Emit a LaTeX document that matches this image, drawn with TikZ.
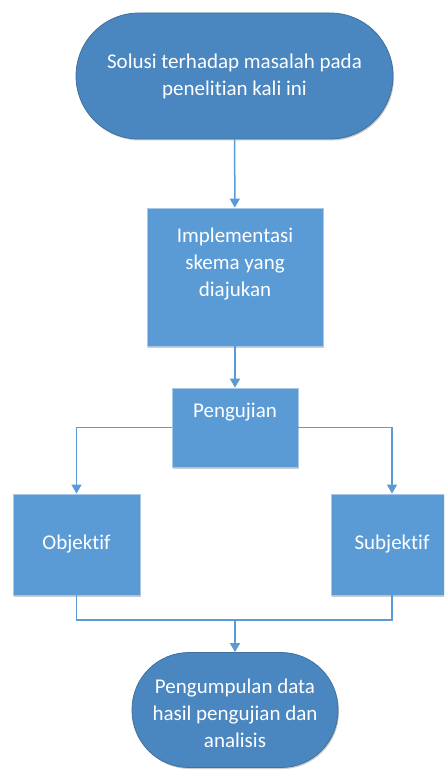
\documentclass[tikz,border=0pt]{standalone}
\usepackage{fontspec}
\setmainfont{Carlito}[Ligatures=NoCommon]
\usetikzlibrary{arrows.meta,shadows}
\definecolor{termfill}{HTML}{4A86C0}
\definecolor{termdraw}{HTML}{41719C}
\definecolor{boxfill}{HTML}{5B9BD5}
\definecolor{boxdraw}{HTML}{A8C7E6}
\definecolor{linecol}{HTML}{5B9BD5}
\begin{document}
\begin{tikzpicture}[x=1pt,y=-1pt,
  shade/.style={drop shadow={shadow xshift=1pt,shadow yshift=-1.5pt,opacity=0.2,fill=black}},
  term/.style={draw=termdraw,fill=termfill,line width=0.8pt,shade},
  boxnode/.style={draw=boxdraw,fill=boxfill,line width=0.8pt,shade},
  txt/.style={text=white,align=center,font=\fontsize{21}{27}\selectfont,inner sep=0pt},
  conn/.style={draw=linecol,line width=1.5pt},
  arr/.style={conn,-{Triangle[width=10pt,length=9pt]}}]
\useasboundingbox (0,0) rectangle (444,770);
\clip (0,0) rectangle (444,770);
% nodes
\node[term,rounded corners=63pt,minimum width=317pt,minimum height=126pt] (t1) at (234.5,76) {};
\node[txt] (t1txt) at (234.5,76.5) {Solusi terhadap masalah pada\\penelitian kali ini};
\node[boxnode,minimum width=176pt,minimum height=138pt] (impl) at (235,277) {};
\node[txt] (impltxt) at (235,264.5) {Implementasi\\skema yang\\diajukan};
\node[boxnode,minimum width=126pt,minimum height=79pt] (pen) at (235,427.5) {};
\node[txt] (pentxt) at (235,412) {Pengujian};
\node[boxnode,minimum width=127pt,minimum height=101pt] (obj) at (76.5,544.5) {};
\node[txt] (objtxt) at (76.5,544.5) {Objektif};
\node[boxnode,minimum width=122pt,minimum height=101pt] (subj) at (392,544.5) {};
\node[txt] (subjtxt) at (392,544.5) {Subjektif};
\node[term,rounded corners=57pt,minimum width=206pt,minimum height=115pt] (t2) at (235,710) {};
\node[txt] (t2txt) at (235,713) {Pengumpulan data\\hasil pengujian dan\\analisis};
% connectors
\coordinate (m) at (235,620);
\draw[arr] (t1) -- (impl);
\draw[arr] (impl) -- (pen);
\draw[arr] (pen.west) -| (obj.north);
\draw[arr] (pen.east) -| (subj.north);
\draw[conn] (obj.south) |- (m) -| (subj.south);
\draw[arr] (m) -- (t2);
\end{tikzpicture}
\end{document}
